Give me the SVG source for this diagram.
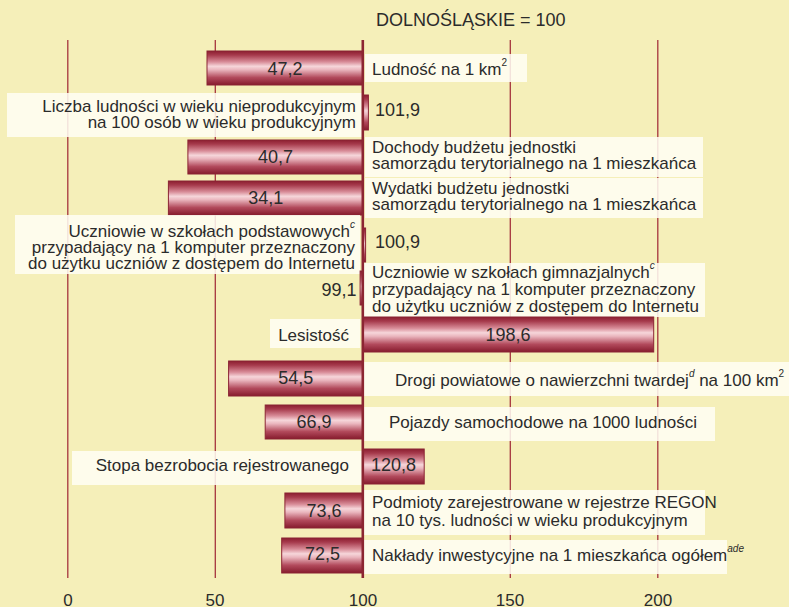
<svg xmlns="http://www.w3.org/2000/svg" width="789" height="607" viewBox="0 0 789 607">
<defs>
<linearGradient id="barg" x1="0" y1="0" x2="0" y2="1">
<stop offset="0" stop-color="#8c1e30"/>
<stop offset="0.12" stop-color="#a63a4c"/>
<stop offset="0.32" stop-color="#d88c98"/>
<stop offset="0.45" stop-color="#f6d6da"/>
<stop offset="0.55" stop-color="#eab6be"/>
<stop offset="0.78" stop-color="#b24a5c"/>
<stop offset="1" stop-color="#861b2d"/>
</linearGradient>
<style>
.bg{fill:#f5efb9}
.grid{stroke:#a5343e;stroke-width:1.3;fill:none}
.axis100{stroke:#8c2632;stroke-width:2.6;fill:none}
.box{fill:#fffef4;fill-opacity:0.86}
.bar{fill:url(#barg);stroke:#8a2434;stroke-width:1}
text{font-family:"Liberation Sans",Arial,sans-serif;font-size:17px;fill:#2b2b2b}
.val{text-anchor:middle;font-size:18px}
.num{font-size:18px}
.end{text-anchor:end}
.sup{font-size:10px;font-style:italic}
.sup2{font-size:10px}
.title{font-size:18px}
.tick{text-anchor:middle}
</style>
</defs>
<rect class="bg" x="0" y="0" width="789" height="607"/>
<text class="title" x="376" y="26">DOLNOŚLĄSKIE = 100</text>

<g id="grid">
<line class="grid" x1="67.8" y1="40" x2="67.8" y2="578"/>
<line class="grid" x1="215.3" y1="40" x2="215.3" y2="578"/>
<line class="grid" x1="510.3" y1="40" x2="510.3" y2="578"/>
<line class="grid" x1="657.8" y1="40" x2="657.8" y2="578"/>
</g>
<g id="axis-labels">
<text class="tick" x="68" y="606">0</text>
<text class="tick" x="215" y="606">50</text>
<text class="tick" x="363" y="606">100</text>
<text class="tick" x="510" y="606">150</text>
<text class="tick" x="658" y="606">200</text>
</g>

<g id="row1">
<rect class="box" x="365" y="54" width="162" height="28"/>
<rect class="bar" x="207" y="51" width="156" height="34"/>
<text class="val" x="285" y="74.5">47,2</text>
<text x="372" y="75">Ludność na 1 km<tspan class="sup2" dy="-9">2</tspan></text>
</g>
<g id="row2">
<rect class="box" x="7" y="93" width="355" height="44"/>
<rect class="bar" x="363" y="95" width="5.4" height="35"/>
<text class="end" x="356" y="111.5">Liczba ludności w wieku nieprodukcyjnym</text>
<text class="end" x="356" y="127.5">na 100 osób w wieku produkcyjnym</text>
<text class="num" x="375" y="116">101,9</text>
</g>
<g id="row3">
<rect class="box" x="365" y="137" width="338" height="40"/>
<rect class="bar" x="187.9" y="140" width="175.1" height="34"/>
<text class="val" x="275.5" y="163">40,7</text>
<text x="372" y="153.3">Dochody budżetu jednostki</text>
<text x="372" y="169.3">samorządu terytorialnego na 1 mieszkańca</text>
</g>
<g id="row4">
<rect class="box" x="365" y="178" width="338" height="40"/>
<rect class="bar" x="168.4" y="181" width="194.6" height="34"/>
<text class="val" x="265.7" y="203.5">34,1</text>
<text x="372" y="193.5">Wydatki budżetu jednostki</text>
<text x="372" y="209.5">samorządu terytorialnego na 1 mieszkańca</text>
</g>
<g id="row5">
<rect class="box" x="15" y="215" width="345" height="59"/>
<rect class="bar" x="363" y="228" width="2.6" height="34"/>
<text class="end" x="355" y="236.7">Uczniowie w szkołach podstawowych<tspan class="sup" dy="-9">c</tspan></text>
<text class="end" x="355" y="253">przypadający na 1 komputer przeznaczony</text>
<text class="end" x="355" y="269">do użytku uczniów z dostępem do Internetu</text>
<text class="num" x="375" y="248">100,9</text>
</g>
<g id="row6">
<rect class="box" x="364" y="263" width="341" height="54"/>
<rect class="bar" x="360.1" y="271" width="2.9" height="34"/>
<text class="end num" x="356.5" y="296">99,1</text>
<text x="372" y="278.3">Uczniowie w szkołach gimnazjalnych<tspan class="sup" dy="-9">c</tspan></text>
<text x="372" y="295">przypadający na 1 komputer przeznaczony</text>
<text x="372" y="311.7">do użytku uczniów z dostępem do Internetu</text>
</g>
<g id="row7">
<rect class="box" x="270" y="319" width="90" height="29"/>
<rect class="bar" x="363" y="317" width="290.7" height="35"/>
<text class="val" x="508" y="340.5">198,6</text>
<text class="end" x="349" y="340.7">Lesistość</text>
</g>
<g id="row8">
<rect class="box" x="364" y="362" width="425" height="34"/>
<rect class="bar" x="228.6" y="361" width="134.4" height="35"/>
<text class="val" x="295.8" y="383.5">54,5</text>
<text x="395" y="386">Drogi powiatowe o nawierzchni twardej<tspan class="sup" dy="-9">d</tspan><tspan dy="9"> na 100 km</tspan><tspan class="sup2" dy="-9">2</tspan></text>
</g>
<g id="row9">
<rect class="box" x="364" y="407" width="351" height="34"/>
<rect class="bar" x="265.2" y="405" width="97.8" height="34"/>
<text class="val" x="314.1" y="428">66,9</text>
<text x="389" y="428.3">Pojazdy samochodowe na 1000 ludności</text>
</g>
<g id="row10">
<rect class="box" x="72" y="451" width="290" height="34"/>
<rect class="bar" x="363" y="449" width="61.2" height="35"/>
<text class="val" x="393.6" y="471">120,8</text>
<text class="end" x="349" y="471">Stopa bezrobocia rejestrowanego</text>
</g>
<g id="row11">
<rect class="box" x="364" y="490" width="341" height="45"/>
<rect class="bar" x="284.9" y="493" width="78.1" height="35"/>
<text class="val" x="324" y="516.5">73,6</text>
<text x="372" y="507.5">Podmioty zarejestrowane w rejestrze REGON</text>
<text x="372" y="526">na 10 tys. ludności w wieku produkcyjnym</text>
</g>
<g id="row12">
<rect class="box" x="364" y="540" width="363" height="34"/>
<rect class="bar" x="281.7" y="538" width="81.3" height="35"/>
<text class="val" x="322.4" y="559.5">72,5</text>
<text x="372" y="560.7">Nakłady inwestycyjne na 1 mieszkańca ogółem<tspan class="sup" dy="-9">ade</tspan></text>
</g>
<g id="connectors">
<line class="axis100" x1="362.8" y1="40" x2="362.8" y2="578"/>
</g>
</svg>
